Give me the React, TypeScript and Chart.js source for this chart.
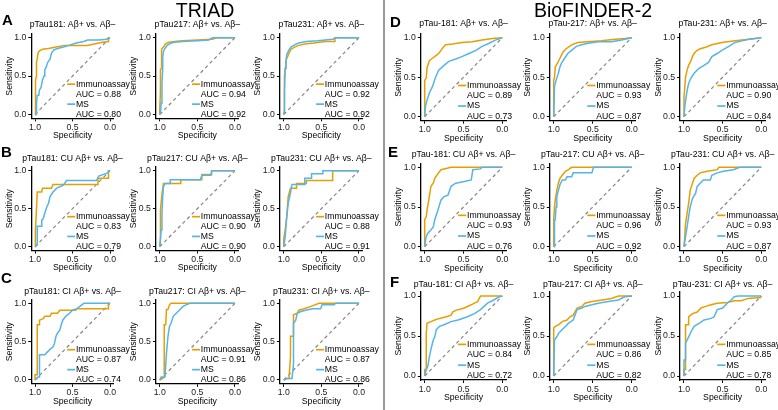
import React, { useEffect, useRef } from "react";
import { Chart, registerables } from "chart.js";
Chart.register(...registerables);

type P = [number, number];

const FONT = '"Liberation Sans", Arial, Helvetica, sans-serif';
const ORANGE = "#E69F00";
const BLUE = "#56B4E9";
const DIAG = "#858585";

const tickValues = [0, 0.5, 1];
const legendNames = ["Immunoassay", "MS"];
const diagonal: P[] = [[1, 0], [0, 1]];

// ---------- TRIAD: all participants (spec, sens) ----------
const triad181IA: P[] = [[1,0],[1,0.1],[0.99,0.1],[0.99,0.45],[0.98,0.5],[0.98,0.68],[0.97,0.72],[0.96,0.8],[0.94,0.83],[0.9,0.85],[0.82,0.86],[0.72,0.88],[0.6,0.9],[0.3,0.9],[0.2,0.92],[0.1,0.94],[0.02,0.95],[0.02,1],[0,1]];
const triad181MS: P[] = [[1,0],[0.98,0],[0.98,0.15],[0.97,0.25],[0.95,0.25],[0.94,0.32],[0.92,0.35],[0.9,0.45],[0.88,0.5],[0.87,0.58],[0.85,0.62],[0.83,0.68],[0.8,0.72],[0.78,0.8],[0.75,0.84],[0.7,0.86],[0.62,0.88],[0.55,0.9],[0.45,0.93],[0.35,0.95],[0.3,0.97],[0.15,0.97],[0.05,0.98],[0,1]];
const triad217IA: P[] = [[1,0],[1,0.05],[0.99,0.3],[0.99,0.58],[0.98,0.6],[0.98,0.8],[0.97,0.85],[0.95,0.88],[0.92,0.92],[0.88,0.94],[0.8,0.95],[0.7,0.96],[0.5,0.97],[0.3,0.98],[0.25,1],[0,1]];
const triad217MS: P[] = [[1,0],[0.99,0.02],[0.98,0.15],[0.97,0.4],[0.96,0.6],[0.96,0.75],[0.95,0.82],[0.93,0.86],[0.9,0.9],[0.85,0.93],[0.8,0.94],[0.7,0.95],[0.5,0.96],[0.35,0.97],[0.3,1],[0,1]];
const triad231IA: P[] = [[1,0],[0.99,0.05],[0.99,0.5],[0.98,0.6],[0.97,0.7],[0.95,0.75],[0.93,0.8],[0.9,0.85],[0.85,0.88],[0.8,0.9],[0.7,0.92],[0.6,0.93],[0.45,0.95],[0.32,0.95],[0.32,1],[0,1]];
const triad231MS: P[] = [[1,0],[0.99,0.05],[0.99,0.3],[0.98,0.6],[0.97,0.7],[0.96,0.78],[0.93,0.84],[0.9,0.88],[0.85,0.91],[0.8,0.93],[0.7,0.95],[0.55,0.96],[0.45,0.97],[0.35,0.98],[0.3,1],[0,1]];

// ---------- TRIAD: CU ----------
const triadCU181IA: P[] = [[1,0],[1,0.15],[0.99,0.2],[0.98,0.5],[0.97,0.72],[0.91,0.72],[0.9,0.77],[0.78,0.77],[0.76,0.82],[0.16,0.82],[0.16,0.9],[0.02,0.9],[0.02,1],[0,1]];
const triadCU181MS: P[] = [[1,0],[0.97,0.02],[0.97,0.27],[0.91,0.27],[0.91,0.35],[0.89,0.37],[0.87,0.44],[0.84,0.53],[0.82,0.57],[0.8,0.66],[0.76,0.72],[0.71,0.77],[0.62,0.81],[0.58,0.87],[0.18,0.87],[0.15,0.93],[0.03,0.97],[0.02,1],[0,1]];
const triadCU217IA: P[] = [[1,0],[0.99,0.05],[0.99,0.48],[0.97,0.7],[0.95,0.83],[0.73,0.83],[0.72,0.88],[0.45,0.88],[0.44,0.95],[0.31,0.95],[0.31,1],[0,1]];
const triadCU217MS: P[] = [[1,0],[0.98,0.22],[0.97,0.44],[0.96,0.66],[0.95,0.79],[0.93,0.83],[0.86,0.83],[0.86,0.88],[0.46,0.88],[0.44,0.94],[0.32,0.94],[0.31,1],[0,1]];
const triadCU231IA: P[] = [[1,0],[1,0.1],[0.98,0.22],[0.96,0.39],[0.94,0.66],[0.91,0.77],[0.83,0.77],[0.83,0.83],[0.7,0.83],[0.7,0.87],[0.35,0.87],[0.35,1],[0,1]];
const triadCU231MS: P[] = [[1,0],[0.98,0.13],[0.96,0.39],[0.94,0.57],[0.91,0.71],[0.89,0.82],[0.72,0.82],[0.72,0.9],[0.63,0.9],[0.63,0.96],[0.48,0.96],[0.48,1],[0,1]];

// ---------- TRIAD: CI ----------
const triadCI181IA: P[] = [[1,0],[1,0.07],[0.97,0.07],[0.97,0.72],[0.94,0.72],[0.94,0.78],[0.89,0.8],[0.87,0.83],[0.8,0.83],[0.78,0.87],[0.7,0.87],[0.67,0.91],[0.46,0.91],[0.44,0.93],[0.02,0.93],[0.02,1],[0,1]];
const triadCI181MS: P[] = [[1,0],[0.98,0.02],[0.96,0.04],[0.94,0.04],[0.94,0.33],[0.87,0.33],[0.83,0.37],[0.8,0.4],[0.76,0.43],[0.74,0.48],[0.72,0.57],[0.7,0.61],[0.67,0.65],[0.65,0.72],[0.63,0.78],[0.59,0.83],[0.54,0.87],[0.5,0.91],[0.44,0.93],[0.35,1],[0,1]];
const triadCI217IA: P[] = [[1,0],[0.96,0.02],[0.94,0.04],[0.94,0.72],[0.92,0.72],[0.91,0.92],[0.89,0.92],[0.87,0.98],[0.85,1],[0,1]];
const triadCI217MS: P[] = [[1,0],[0.98,0.04],[0.93,0.04],[0.91,0.35],[0.89,0.57],[0.87,0.7],[0.85,0.74],[0.82,0.83],[0.78,0.87],[0.74,0.91],[0.69,0.96],[0.65,0.98],[0.6,1],[0,1]];
const triadCI231IA: P[] = [[1,0],[0.96,0.02],[0.93,0.02],[0.91,0.3],[0.91,0.57],[0.87,0.57],[0.87,0.85],[0.82,0.87],[0.8,0.91],[0.73,0.93],[0.64,0.96],[0.53,1],[0,1]];
const triadCI231MS: P[] = [[1,0],[0.96,0.02],[0.89,0.02],[0.87,0.2],[0.87,0.74],[0.84,0.78],[0.82,0.87],[0.78,0.89],[0.71,0.91],[0.62,0.93],[0.51,0.93],[0.49,0.98],[0.33,0.98],[0.31,1],[0,1]];

// ---------- BioFINDER-2: all participants ----------
const bf181IA: P[] = [[1,0],[1,0.46],[0.98,0.49],[0.97,0.62],[0.95,0.68],[0.94,0.71],[0.9,0.74],[0.86,0.77],[0.82,0.8],[0.79,0.84],[0.76,0.88],[0.73,0.91],[0.64,0.92],[0.52,0.94],[0.39,0.95],[0.26,0.97],[0.13,0.99],[0,1]];
const bf181MS: P[] = [[1,0],[0.99,0.13],[0.97,0.21],[0.94,0.3],[0.9,0.38],[0.86,0.5],[0.82,0.59],[0.75,0.65],[0.69,0.7],[0.6,0.73],[0.52,0.76],[0.43,0.8],[0.34,0.84],[0.26,0.89],[0.17,0.93],[0.09,0.97],[0,1]];
const bf217IA: P[] = [[1,0],[1,0.46],[0.99,0.5],[0.98,0.63],[0.95,0.68],[0.92,0.74],[0.9,0.78],[0.88,0.82],[0.84,0.86],[0.77,0.91],[0.69,0.94],[0.56,0.95],[0.39,0.96],[0.21,0.98],[0.09,0.99],[0,1]];
const bf217MS: P[] = [[1,0],[0.99,0.38],[0.97,0.46],[0.94,0.55],[0.92,0.63],[0.9,0.68],[0.86,0.74],[0.82,0.8],[0.77,0.84],[0.71,0.89],[0.64,0.91],[0.56,0.93],[0.43,0.95],[0.26,0.95],[0.13,0.97],[0,1]];
const bf231IA: P[] = [[1,0],[1,0.25],[0.99,0.37],[0.98,0.5],[0.96,0.59],[0.94,0.65],[0.91,0.71],[0.89,0.76],[0.87,0.8],[0.83,0.84],[0.79,0.86],[0.72,0.88],[0.64,0.91],[0.51,0.94],[0.34,0.96],[0.16,0.98],[0,1]];
const bf231MS: P[] = [[1,0],[0.99,0.12],[0.98,0.2],[0.96,0.33],[0.94,0.42],[0.91,0.49],[0.87,0.55],[0.81,0.61],[0.74,0.65],[0.68,0.69],[0.64,0.76],[0.57,0.8],[0.51,0.84],[0.42,0.89],[0.34,0.94],[0.25,0.96],[0.16,0.98],[0,1]];

// ---------- BioFINDER-2: CU ----------
const bfCU181IA: P[] = [[1,0],[1,0.34],[0.98,0.38],[0.97,0.46],[0.94,0.63],[0.92,0.76],[0.89,0.8],[0.87,0.86],[0.83,0.92],[0.79,0.97],[0.7,0.99],[0.66,1],[0,1]];
const bfCU181MS: P[] = [[1,0],[0.99,0.08],[0.98,0.13],[0.96,0.17],[0.92,0.21],[0.89,0.25],[0.87,0.34],[0.83,0.46],[0.79,0.59],[0.75,0.63],[0.7,0.65],[0.66,0.76],[0.6,0.8],[0.49,0.82],[0.4,0.84],[0.38,0.97],[0.28,0.98],[0.26,1],[0,1]];
const bfCU217IA: P[] = [[1,0],[1,0.34],[0.99,0.5],[0.98,0.59],[0.96,0.71],[0.94,0.8],[0.92,0.86],[0.89,0.9],[0.85,0.95],[0.81,0.97],[0.77,1],[0,1]];
const bfCU217MS: P[] = [[1,0],[0.99,0],[0.99,0.34],[0.98,0.34],[0.97,0.5],[0.96,0.63],[0.94,0.71],[0.92,0.78],[0.89,0.84],[0.85,0.84],[0.83,0.88],[0.77,0.88],[0.75,0.93],[0.51,0.93],[0.49,1],[0,1]];
const bfCU231IA: P[] = [[1,0],[0.99,0.13],[0.98,0.29],[0.96,0.42],[0.94,0.55],[0.92,0.71],[0.89,0.8],[0.87,0.86],[0.83,0.9],[0.79,0.93],[0.7,0.95],[0.57,0.97],[0.55,1],[0,1]];
const bfCU231MS: P[] = [[1,0],[0.98,0.13],[0.96,0.25],[0.94,0.38],[0.92,0.5],[0.89,0.61],[0.85,0.67],[0.83,0.76],[0.79,0.8],[0.75,0.84],[0.66,0.84],[0.64,0.9],[0.57,0.93],[0.49,0.95],[0.36,0.97],[0.28,1],[0,1]];

// ---------- BioFINDER-2: CI ----------
const bfCI181IA: P[] = [[1,0],[1,0.08],[0.98,0.08],[0.98,0.53],[0.97,0.66],[0.92,0.68],[0.87,0.7],[0.81,0.72],[0.72,0.74],[0.66,0.76],[0.64,0.8],[0.6,0.82],[0.49,0.85],[0.4,0.89],[0.36,0.91],[0.32,0.93],[0.28,1],[0,1]];
const bfCI181MS: P[] = [[1,0],[0.98,0.08],[0.96,0.12],[0.94,0.24],[0.92,0.33],[0.89,0.45],[0.87,0.49],[0.85,0.58],[0.81,0.62],[0.75,0.64],[0.66,0.68],[0.57,0.7],[0.45,0.74],[0.36,0.78],[0.28,0.83],[0.19,0.91],[0.11,0.95],[0.04,0.99],[0,1]];
const bfCI217IA: P[] = [[1,0],[1,0.6],[0.98,0.62],[0.94,0.64],[0.89,0.68],[0.83,0.7],[0.79,0.74],[0.75,0.76],[0.7,0.85],[0.64,0.87],[0.6,0.91],[0.51,0.93],[0.38,0.95],[0.26,0.97],[0.17,1],[0,1]];
const bfCI217MS: P[] = [[1,0],[0.99,0.45],[0.96,0.49],[0.94,0.53],[0.89,0.58],[0.85,0.62],[0.81,0.66],[0.75,0.7],[0.7,0.83],[0.64,0.85],[0.6,0.87],[0.51,0.89],[0.43,0.91],[0.3,0.93],[0.17,0.95],[0.09,0.99],[0,1]];
const bfCI231IA: P[] = [[1,0],[1,0.08],[0.98,0.08],[0.98,0.64],[0.94,0.64],[0.94,0.74],[0.89,0.78],[0.83,0.8],[0.78,0.85],[0.72,0.87],[0.65,0.89],[0.57,0.91],[0.44,0.92],[0.35,0.94],[0.26,0.94],[0.17,0.97],[0.01,0.98],[0,1]];
const bfCI231MS: P[] = [[1,0],[1,0.2],[0.98,0.2],[0.98,0.41],[0.94,0.49],[0.91,0.55],[0.87,0.62],[0.8,0.66],[0.74,0.7],[0.65,0.72],[0.61,0.74],[0.57,0.83],[0.5,0.85],[0.44,0.91],[0.39,0.95],[0.35,0.99],[0.3,1],[0,1]];

// ---------- titles and AUC labels ----------
const triadTitles = [
  "pTau181: Aβ+ vs. Aβ–", "pTau217: Aβ+ vs. Aβ–", "pTau231: Aβ+ vs. Aβ–",
  "pTau181: CU Aβ+ vs. Aβ–", "pTau217: CU Aβ+ vs. Aβ–", "pTau231: CU Aβ+ vs. Aβ–",
  "pTau181: CI Aβ+ vs. Aβ–", "pTau217: CI Aβ+ vs. Aβ–", "pTau231: CI Aβ+ vs. Aβ–",
];
const bfTitles = [
  "pTau-181: Aβ+ vs. Aβ–", "pTau-217: Aβ+ vs. Aβ–", "pTau-231: Aβ+ vs. Aβ–",
  "pTau-181: CU Aβ+ vs. Aβ–", "pTau-217: CU Aβ+ vs. Aβ–", "pTau-231: CU Aβ+ vs. Aβ–",
  "pTau-181: CI Aβ+ vs. Aβ–", "pTau-217: CI Aβ+ vs. Aβ–", "pTau-231: CI Aβ+ vs. Aβ–",
];
const triadAucIA = ["0.88", "0.94", "0.92", "0.83", "0.90", "0.88", "0.87", "0.91", "0.87"];
const triadAucMS = ["0.80", "0.92", "0.92", "0.79", "0.90", "0.91", "0.74", "0.86", "0.86"];
const bfAucIA = ["0.89", "0.93", "0.90", "0.93", "0.96", "0.93", "0.84", "0.86", "0.85"];
const bfAucMS = ["0.73", "0.87", "0.84", "0.76", "0.92", "0.87", "0.72", "0.82", "0.78"];

const triadIA = [triad181IA, triad217IA, triad231IA, triadCU181IA, triadCU217IA, triadCU231IA, triadCI181IA, triadCI217IA, triadCI231IA];
const triadMS = [triad181MS, triad217MS, triad231MS, triadCU181MS, triadCU217MS, triadCU231MS, triadCI181MS, triadCI217MS, triadCI231MS];
const bfIA = [bf181IA, bf217IA, bf231IA, bfCU181IA, bfCU217IA, bfCU231IA, bfCI181IA, bfCI217IA, bfCI231IA];
const bfMS = [bf181MS, bf217MS, bf231MS, bfCU181MS, bfCU217MS, bfCU231MS, bfCI181MS, bfCI217MS, bfCI231MS];

const panelLetters = ["A", "B", "C", "D", "E", "F"];

// ---------- layout (pixel positions of data value 1.0 / 0.0) ----------
const leftCols: [number, number][] = [[35, 110], [159.7, 235], [283.7, 359]];
const rightCols: [number, number][] = [[424.7, 502.3], [553.7, 631.7], [684, 761.3]];
const leftRows: [number, number, number][] = [[37.7, 114.5, 25], [170.7, 246.7, 158.3], [303.3, 380, 291.7]];
const rightRows: [number, number, number][] = [[37.7, 116.7, 23.3], [167.3, 246.7, 155], [296, 376, 285]];
const letterPos: [number, number][] = [[2, 19], [1, 151], [1, 277.5], [390, 21], [388, 151], [390, 281]];

type PanelSpec = {
  x1: number; x0: number; yt: number; yb: number; titleY: number;
  title: string; ia: P[]; ms: P[]; aucIA: string; aucMS: string;
};

const panels: PanelSpec[] = [];
for (let r = 0; r < 3; r++) {
  for (let c = 0; c < 3; c++) {
    const i = r * 3 + c;
    panels.push({ x1: leftCols[c][0], x0: leftCols[c][1], yt: leftRows[r][0], yb: leftRows[r][1], titleY: leftRows[r][2],
      title: triadTitles[i], ia: triadIA[i], ms: triadMS[i], aucIA: triadAucIA[i], aucMS: triadAucMS[i] });
    panels.push({ x1: rightCols[c][0], x0: rightCols[c][1], yt: rightRows[r][0], yb: rightRows[r][1], titleY: rightRows[r][2],
      title: bfTitles[i], ia: bfIA[i], ms: bfMS[i], aucIA: bfAucIA[i], aucMS: bfAucMS[i] });
  }
}

const SMALL = 8.7;
const WY = 36, HX = 26, PT = 22, PR = 34;

function Panel({ p }: { p: PanelSpec }) {
  const ref = useRef<HTMLCanvasElement | null>(null);
  const w = p.x0 - p.x1, h = p.yb - p.yt;
  const cL = p.x1 - 0.05 * w, cR = p.x0 + 0.05 * w, cT = p.yt - 0.05 * h, cB = p.yb + 0.05 * h;
  const left = Math.floor(cL - WY), top = Math.floor(cT - PT);
  const width = Math.ceil(cR + PR) - left, height = Math.ceil(cB + HX) - top;

  useEffect(() => {
    const canvas = ref.current;
    if (!canvas) return;
    const textPlugin = {
      id: "panelText",
      afterDraw(chart: any) {
        const ctx = chart.ctx as CanvasRenderingContext2D;
        const xs = chart.scales.x, ys = chart.scales.y;
        const a = chart.chartArea;
        ctx.save();
        ctx.fillStyle = "#000";
        ctx.font = `${SMALL}px ${FONT}`;
        ctx.textBaseline = "middle";
        // panel title
        ctx.textAlign = "center";
        ctx.fillText(p.title, (a.left + a.right) / 2, p.titleY - top);
        // axis titles
        ctx.fillText("Specificity", (a.left + a.right) / 2, a.bottom + 17.5);
        ctx.save();
        ctx.translate(a.left - 22, (a.top + a.bottom) / 2);
        ctx.rotate(-Math.PI / 2);
        ctx.fillText("Sensitivity", 0, 0);
        ctx.restore();
        // legend
        const segA = xs.getPixelForValue(0.57), segB = xs.getPixelForValue(0.465), tx = xs.getPixelForValue(0.455);
        const rows = [0.395, 0.265, 0.135, 0.005].map((v) => ys.getPixelForValue(v));
        ctx.textAlign = "left";
        ctx.lineWidth = 1.7;
        ctx.strokeStyle = ORANGE;
        ctx.beginPath(); ctx.moveTo(segA, rows[0]); ctx.lineTo(segB, rows[0]); ctx.stroke();
        ctx.strokeStyle = BLUE;
        ctx.beginPath(); ctx.moveTo(segA, rows[2]); ctx.lineTo(segB, rows[2]); ctx.stroke();
        ctx.fillText(legendNames[0], tx, rows[0]);
        ctx.fillText(`AUC = ${p.aucIA}`, tx, rows[1]);
        ctx.fillText(legendNames[1], tx, rows[2]);
        ctx.fillText(`AUC = ${p.aucMS}`, tx, rows[3]);
        ctx.restore();
      },
    };
    const axis = (isX: boolean) => ({
      type: "linear" as const,
      reverse: isX,
      min: -0.05,
      max: 1.05,
      afterBuildTicks: (s: any) => { s.ticks = tickValues.map((v) => ({ value: v })); },
      afterFit: (s: any) => { if (isX) s.height = HX; else s.width = WY; },
      ticks: {
        callback: (v: any) => Number(v).toFixed(1),
        font: { family: FONT, size: SMALL },
        color: "#1a1a1a",
        padding: isX ? 1 : 2,
        maxRotation: 0,
        autoSkip: false,
      },
      grid: { display: true, drawOnChartArea: false, drawTicks: true, tickLength: 3, color: "#000", lineWidth: 1 },
      border: { display: true, color: "#000", width: 1.3 },
    });
    const line = (pts: P[], color: string, order: number, dash: number[] = [], bw = 1.5) => ({
      data: pts.map(([x, y]) => ({ x, y })),
      showLine: true,
      borderColor: color,
      backgroundColor: color,
      borderWidth: bw,
      borderDash: dash,
      pointRadius: 0,
      tension: 0,
      fill: false,
      order,
    });
    const chart = new Chart(canvas, {
      type: "scatter",
      data: {
        datasets: [
          line(p.ms, BLUE, 1),
          line(p.ia, ORANGE, 2),
          line(diagonal, DIAG, 3, [3.5, 3], 1.2),
        ],
      },
      options: {
        animation: false,
        responsive: false,
        maintainAspectRatio: false,
        devicePixelRatio: 1,
        events: [],
        layout: {
          padding: {
            left: cL - WY - left,
            top: cT - top,
            right: width - (cR - left),
            bottom: height - (cB - top) - HX,
          },
        },
        plugins: { legend: { display: false }, tooltip: { enabled: false }, title: { display: false } },
        scales: { x: axis(true) as any, y: axis(false) as any },
      },
      plugins: [textPlugin],
    });
    return () => chart.destroy();
  }, []);

  return (
    <canvas
      ref={ref}
      width={width}
      height={height}
      style={{ position: "absolute", left, top, width, height }}
    />
  );
}

export default function App() {
  return (
    <div style={{ position: "absolute", left: 0, top: 0, width: 778, height: 410, background: "#fff", overflow: "hidden", fontFamily: FONT }}>
      {panels.map((p, i) => <Panel key={i} p={p} />)}
      <div style={{ position: "absolute", left: 382.5, top: 0, width: 2, height: 410, background: "#9a9a9a" }} />
      <div style={{ position: "absolute", left: 105, width: 200, top: 0.5, fontSize: 19.5, lineHeight: "19.5px", textAlign: "center", color: "#000" }}>TRIAD</div>
      <div style={{ position: "absolute", left: 493, width: 200, top: 0.5, fontSize: 19.5, lineHeight: "19.5px", textAlign: "center", color: "#000" }}>BioFINDER-2</div>
      {panelLetters.map((L, i) => (
        <div key={L} style={{ position: "absolute", left: letterPos[i][0], top: letterPos[i][1] - 7.5, fontSize: 15, lineHeight: "15px", fontWeight: "bold", color: "#000" }}>{L}</div>
      ))}
    </div>
  );
}
